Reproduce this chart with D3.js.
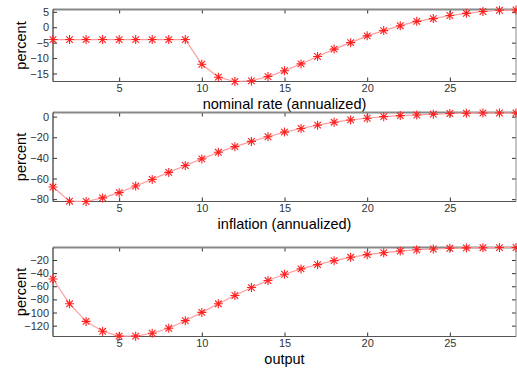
<!DOCTYPE html>
<html>
<head>
<meta charset="utf-8">
<script src="https://cdn.jsdelivr.net/npm/d3@7"></script>
<style>
	body { margin: 0; background: #fff; }
	svg { display: block; font-family: "Liberation Sans", Arial, sans-serif; }
	.tick-label { font-size: 11px; fill: #333; }
	.title { font-size: 14.5px; fill: #000; }
</style>
</head>
<body>
<svg id="chart" width="517" height="368"></svg>
<script>
// horizon (quarters)
const periods = [1, 2, 3, 4, 5, 6, 7, 8, 9, 10, 11, 12, 13, 14, 15, 16, 17, 18, 19, 20, 21, 22, 23, 24, 25, 26, 27, 28, 29];
const xTicks = [5, 10, 15, 20, 25];

const nominalRate = [-4, -4, -4, -4, -4, -4, -4, -4, -4, -12.0, -16.2, -17.6, -17.4, -16.0, -14.1, -11.9, -9.5, -7.1, -5.0, -2.8, -1.1, 0.5, 1.9, 2.8, 3.8, 4.5, 5.1, 5.5, 5.6];
const inflation = [-68.3, -82.0, -82.3, -78.8, -73.7, -67.3, -60.9, -54.1, -47.4, -41.0, -34.6, -29.1, -24.0, -19.5, -15.0, -11.5, -8.3, -5.4, -3.2, -1.6, 0.0, 1.0, 1.6, 2.4, 3.0, 3.3, 3.5, 3.5, 3.5];
const output = [-49.0, -86.7, -113.5, -128.6, -136.0, -136.0, -131.6, -124.0, -112.4, -99.8, -86.7, -74.0, -62.0, -51.3, -41.7, -33.6, -27.1, -21.0, -15.9, -11.9, -8.9, -6.4, -4.4, -3.3, -2.2, -1.6, -1.3, -1.1, -1.0];

const nominalTicks = [-15, -10, -5, 0, 5];
const inflationTicks = [-80, -60, -40, -20, 0];
const outputTicks = [-120, -100, -80, -60, -40, -20];

const titles = ['nominal rate (annualized)', 'inflation (annualized)', 'output'];

const svg = d3.select('#chart');
const left = 53, right = 516;

const panels = [
	{values: nominalRate, ticks: nominalTicks, domain: [-17.6, 5.75], top: 9.5, bottom: 81.5, title: titles[0]},
	{values: inflation, ticks: inflationTicks, domain: [-82.3, 4], top: 112.5, bottom: 201.5, title: titles[1]},
	{values: output, ticks: outputTicks, domain: [-136.5, -1], top: 247.5, bottom: 336.5, title: titles[2]}
];

const x = d3.scaleLinear().domain([1, 29]).range([left, right]);

// asterisk marker like matlab '*'
function star(cx, cy) {
	const a = 4.5, b = 3.3;
	return 'M' + (cx - a) + ',' + cy + 'H' + (cx + a) +
		'M' + cx + ',' + (cy - a) + 'V' + (cy + a) +
		'M' + (cx - b) + ',' + (cy - b) + 'L' + (cx + b) + ',' + (cy + b) +
		'M' + (cx - b) + ',' + (cy + b) + 'L' + (cx + b) + ',' + (cy - b);
}

panels.forEach((p, k) => {
	const y = d3.scaleLinear().domain(p.domain).range([p.bottom, p.top]);
	const g = svg.append('g');

	// x axis bottom + ticks mirrored on top
	const xAxis = g.append('g')
		.attr('transform', 'translate(0,' + p.bottom + ')')
		.call(d3.axisBottom(x).tickValues(xTicks).tickSize(-4).tickPadding(3));
	const xTop = g.append('g')
		.attr('transform', 'translate(0,' + p.top + ')')
		.call(d3.axisTop(x).tickValues(xTicks).tickSize(-4).tickFormat(''));

	const yAxis = g.append('g')
		.attr('transform', 'translate(' + left + ',0)')
		.call(d3.axisLeft(y).tickValues(p.ticks).tickSize(-4).tickPadding(4));
	const yRight = g.append('g')
		.attr('transform', 'translate(' + right + ',0)')
		.call(d3.axisRight(y).tickValues(p.ticks).tickSize(-4).tickFormat(''));

	[xAxis, xTop, yAxis, yRight].forEach(a => {
		a.select('.domain').remove();
		a.selectAll('.tick line').attr('stroke', '#333');
		a.selectAll('.tick text').attr('class', 'tick-label').attr('font-size', null).attr('font-family', null);
	});

	// box
	g.append('line').attr('x1', left).attr('x2', right).attr('y1', p.top).attr('y2', p.top)
		.attr('stroke', '#888').attr('stroke-width', 2);
	g.append('line').attr('x1', left).attr('x2', right).attr('y1', p.bottom).attr('y2', p.bottom)
		.attr('stroke', '#555').attr('stroke-width', 1.2);
	g.append('line').attr('x1', left).attr('x2', left).attr('y1', p.top).attr('y2', p.bottom)
		.attr('stroke', '#333').attr('stroke-width', 1.2);
	g.append('line').attr('x1', right).attr('x2', right).attr('y1', p.top).attr('y2', p.bottom)
		.attr('stroke', '#888').attr('stroke-width', 1);

	const line = d3.line()
		.x((d, i) => x(periods[i]))
		.y(d => y(d));

	g.append('path')
		.datum(p.values)
		.attr('d', line)
		.attr('fill', 'none')
		.attr('stroke', '#ff9c9c')
		.attr('stroke-width', 1.2);

	g.selectAll('.mark')
		.data(p.values)
		.enter()
		.append('path')
		.attr('class', 'mark')
		.attr('d', (d, i) => star(x(periods[i]), y(d)))
		.attr('stroke', '#ff2020')
		.attr('stroke-width', 1.1)
		.attr('fill', 'none');

	g.append('text')
		.attr('class', 'title')
		.attr('x', (left + right) / 2)
		.attr('y', p.bottom + 27.5)
		.attr('text-anchor', 'middle')
		.text(p.title);

	g.append('text')
		.attr('class', 'title')
		.attr('transform', 'translate(26,' + ((p.top + p.bottom) / 2) + ') rotate(-90)')
		.attr('text-anchor', 'middle')
		.text('percent');
});
</script>
</body>
</html>
